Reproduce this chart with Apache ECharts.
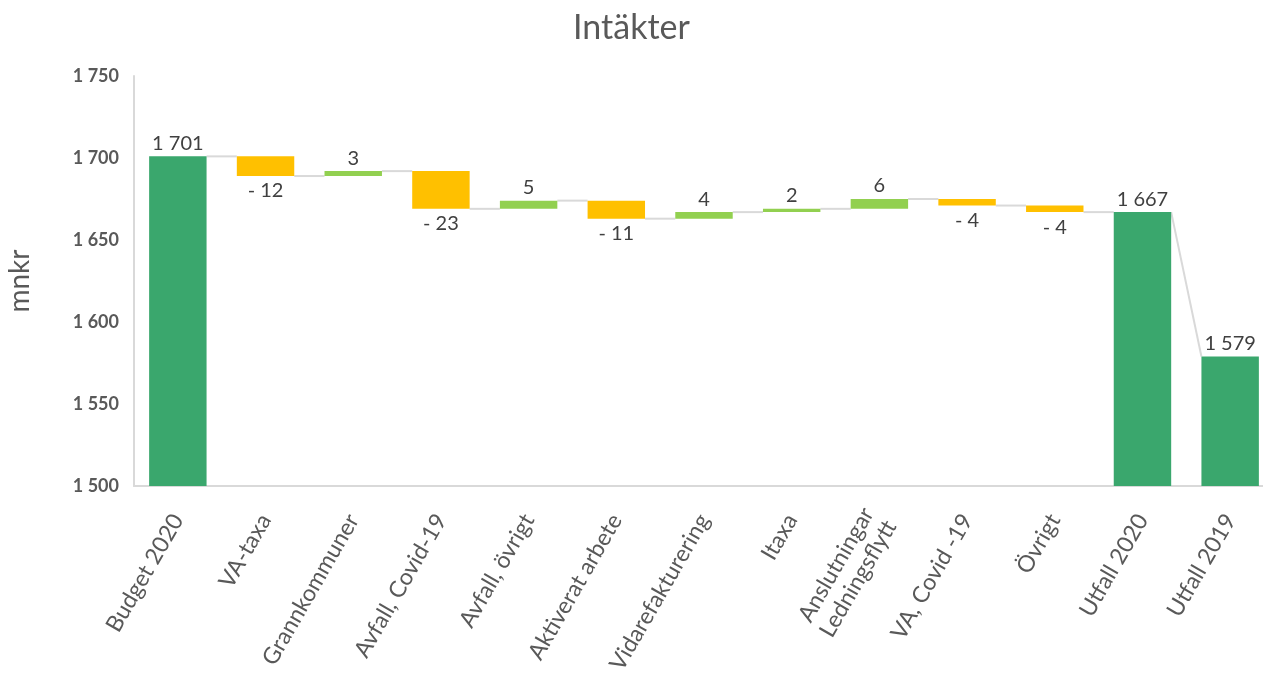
<!DOCTYPE html>
<html>
<head>
<meta charset="utf-8">
<script src="https://cdn.jsdelivr.net/npm/echarts@6/dist/echarts.min.js"></script>
<style>html,body{margin:0;padding:0;background:#fff}#c{width:1263px;height:673px}</style>
</head>
<body>
<div id="c"></div>
<script>
const categories = ['Budget 2020','VA-taxa','Grannkommuner','Avfall, Covid-19','Avfall, övrigt','Aktiverat arbete','Vidarefakturering','Itaxa','Anslutningar\nLedningsflytt','VA, Covid -19','Övrigt','Utfall 2020','Utfall 2019'];
const values = [1701, -12, 3, -23, 5, -11, 4, 2, 6, -4, -4, 1667, 1579];
const isTotal = [true, false, false, false, false, false, false, false, false, false, false, true, true];
const yTicks = { min: 1500, max: 1750, interval: 50 };

const fmt = v => String(Math.round(v)).replace(/\B(?=(\d{3})+(?!\d))/g, ' ');

// waterfall build
const base = [], totalD = [], upD = [], downD = [], level = [];
let run = 0;
values.forEach((v, i) => {
  if (isTotal[i]) {
    base.push(0); totalD.push(v); upD.push('-'); downD.push('-');
    run = v;
  } else {
    const start = run, end = run + v;
    base.push(Math.min(start, end));
    totalD.push('-');
    upD.push(v > 0 ? v : '-');
    downD.push(v < 0 ? -v : '-');
    run = end;
  }
  level.push(run);
});
const connectors = [];
for (let i = 0; i < values.length - 1; i++) {
  const y2 = isTotal[i + 1] ? values[i + 1] : level[i];
  connectors.push([i, level[i], y2]);
}

const FONT = 'Lato, "Open Sans", sans-serif';
const BAR_FRAC = 0.655;
const chart = echarts.init(document.getElementById('c'));
chart.setOption({
  animation: false,
  textStyle: { fontFamily: FONT },
  title: {
    text: 'Intäkter', left: 'center', top: 6,
    textStyle: { fontFamily: FONT, fontSize: 34, fontWeight: 'normal', color: '#595959' }
  },
  grid: { left: 134, width: 1140, top: 76, bottom: 187, outerBoundsMode: 'none', containLabel: false },
  xAxis: {
    type: 'category', data: categories,
    axisLine: { lineStyle: { color: '#D9D9D9', width: 2 } },
    axisTick: { show: false },
    axisLabel: { interval: 0, rotate: 60, margin: 30, fontSize: 23, color: '#595959', fontFamily: FONT, lineHeight: 26 }
  },
  yAxis: {
    type: 'value', min: yTicks.min, max: yTicks.max, interval: yTicks.interval,
    name: 'mnkr', nameLocation: 'middle', nameRotate: 90, nameGap: 100,
    nameTextStyle: { fontSize: 28, color: '#595959', fontFamily: FONT },
    axisLine: { show: true, lineStyle: { color: '#D9D9D9', width: 2 } },
    axisTick: { show: false },
    splitLine: { show: false },
    axisLabel: { margin: 15, fontSize: 18, fontWeight: 'bold', color: '#595959', fontFamily: FONT, formatter: v => fmt(v) }
  },
  series: [
    { type: 'bar', stack: 'w', data: base, barWidth: (BAR_FRAC * 100) + '%', itemStyle: { color: 'transparent' }, silent: true },
    { type: 'bar', stack: 'w', data: totalD, itemStyle: { color: '#3AA76D' },
      label: { show: true, position: 'top', distance: 3, fontSize: 20, color: '#404040', fontFamily: FONT, formatter: p => fmt(p.value) } },
    { type: 'bar', stack: 'w', data: upD, itemStyle: { color: '#92D050' },
      label: { show: true, position: 'top', distance: 3, fontSize: 20, color: '#404040', fontFamily: FONT, formatter: p => fmt(p.value) } },
    { type: 'bar', stack: 'w', data: downD, itemStyle: { color: '#FFC000' },
      label: { show: true, position: 'bottom', distance: 5, fontSize: 20, color: '#404040', fontFamily: FONT, formatter: p => '- ' + fmt(p.value) } },
    { type: 'custom', data: connectors, z: 1,
      renderItem: (params, api) => {
        const i = api.value(0);
        const p1 = api.coord([i, api.value(1)]);
        const p2 = api.coord([i + 1, api.value(2)]);
        const hw = api.size([1, 0])[0] * BAR_FRAC / 2;
        return { type: 'line', shape: { x1: p1[0] + hw, y1: p1[1], x2: p2[0] - hw, y2: p2[1] },
          style: { stroke: '#D9D9D9', lineWidth: 2 } };
      } }
  ]
});
</script>
</body>
</html>
